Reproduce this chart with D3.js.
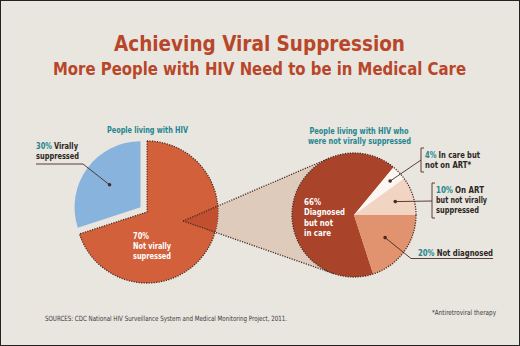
<!DOCTYPE html>
<html><head><meta charset="utf-8">
<script src="https://cdn.jsdelivr.net/npm/d3@7"></script>
<style>
html,body{margin:0;padding:0;background:#e9e5df;}
svg{display:block;}
text{font-family:"Liberation Sans Narrow","DejaVu Sans Condensed","Roboto",sans-serif;font-stretch:condensed;}
</style></head>
<body>
<script>
// ---- data ----
const titleText = "Achieving Viral Suppression";
const subtitleText = "More People with HIV Need to be in Medical Care";
const outerCategories = ["Not virally supressed", "Virally suppressed"];
const outerValues = [70, 30];
const innerCategories = ["Diagnosed but not in care", "In care but not on ART*", "On ART but not virally suppressed", "Not diagnosed"];
const innerValues = [66, 4, 10, 20];
const sourceText = "SOURCES: CDC National HIV Surveillance System and Medical Monitoring Project, 2011.";
const footnoteText = "*Antiretroviral therapy";

const W = 520, H = 346;
const C = {
  bg: "#e9e5df", title: "#b8472a", teal: "#23868f", dark: "#2b2522",
  orange: "#d1603b", orangeDeep: "#c24f2f", blue: "#87b3dd", tan: "#dfcbbc",
  inner: ["#a9432a", "#fcf7f2", "#f2d4c3", "#e1926e"], dots: "#4a2b20"
};
const FS = 8.6;

const svg = d3.select("body").append("svg").attr("width", W).attr("height", H);
svg.append("rect").attr("x", 0.5).attr("y", 0.5).attr("width", W - 1).attr("height", H - 1)
  .attr("fill", C.bg).attr("stroke", "#222").attr("stroke-width", 1);

function fitText(sel, len) { if (len) sel.attr("textLength", len).attr("lengthAdjust", "spacingAndGlyphs"); return sel; }

// titles
fitText(svg.append("text").attr("x", 259.5).attr("y", 51).attr("text-anchor", "middle")
  .attr("font-size", 22).attr("font-weight", "bold").attr("fill", C.title).text(titleText), 291);
fitText(svg.append("text").attr("x", 259.5).attr("y", 75).attr("text-anchor", "middle")
  .attr("font-size", 17).attr("font-weight", "bold").attr("fill", C.title).text(subtitleText), 413);

// ---- geometry ----
const L = { cx: 147, cy: 212, r: 71, rBlue: 66, explode: 8 };
const R = { cx: 354, cy: 215, r: 62 };
const apex = [183, 221];

const dx = R.cx - apex[0], dy = R.cy - apex[1];
const d = Math.hypot(dx, dy), base = Math.atan2(dy, dx), half = Math.asin(R.r / d);
const tl = Math.sqrt(d * d - R.r * R.r);
const tUp = [apex[0] + tl * Math.cos(base - half), apex[1] + tl * Math.sin(base - half)];
const tDn = [apex[0] + tl * Math.cos(base + half), apex[1] + tl * Math.sin(base + half)];
const conePts = [apex, tUp, [R.cx, R.cy], tDn];

const dotted = { stroke: C.dots, "stroke-width": 1.3, "stroke-dasharray": "1.2,1.3", fill: "none" };
function applyAttrs(sel, o) { Object.entries(o).forEach(([k, v]) => sel.attr(k, v)); return sel; }

svg.append("polygon").attr("points", conePts.map(p => p.join(",")).join(" ")).attr("fill", C.tan);

// left pie
const leftPie = d3.pie().sort(null).startAngle(0).endAngle(2 * Math.PI)(outerValues);
const arcOrange = d3.arc().innerRadius(0).outerRadius(L.r);
const arcBlue = d3.arc().innerRadius(0).outerRadius(L.rBlue);
const gL = svg.append("g").attr("transform", `translate(${L.cx},${L.cy})`);
gL.append("path").attr("d", arcOrange(leftPie[0])).attr("fill", C.orange);
const defs = svg.append("defs");
defs.append("clipPath").attr("id", "clipO").append("path")
  .attr("transform", `translate(${L.cx},${L.cy})`).attr("d", arcOrange(leftPie[0]));
svg.append("polygon").attr("points", conePts.map(p => p.join(",")).join(" "))
  .attr("fill", C.orangeDeep).attr("clip-path", "url(#clipO)");
applyAttrs(gL.append("path").attr("d", arcOrange(leftPie[0])), dotted);

const bMid = (leftPie[1].startAngle + leftPie[1].endAngle) / 2;
const bOff = [Math.sin(bMid) * L.explode, -Math.cos(bMid) * L.explode];
const gB = gL.append("g").attr("transform", `translate(${bOff[0]},${bOff[1]})`);
gB.append("path").attr("d", arcBlue(leftPie[1])).attr("fill", C.blue);

applyAttrs(svg.append("line").attr("x1", apex[0]).attr("y1", apex[1]).attr("x2", tUp[0]).attr("y2", tUp[1]), dotted);
applyAttrs(svg.append("line").attr("x1", apex[0]).attr("y1", apex[1]).attr("x2", tDn[0]).attr("y2", tDn[1]), dotted);

// right pie
const a0 = 0.9 * Math.PI;
const rightPie = d3.pie().sort(null).startAngle(a0).endAngle(a0 + 2 * Math.PI)(innerValues);
const arcR = d3.arc().innerRadius(0).outerRadius(R.r);
const gR = svg.append("g").attr("transform", `translate(${R.cx},${R.cy})`);
gR.selectAll("path.s").data(rightPie).join("path").attr("class", "s")
  .attr("d", arcR).attr("fill", (dd, i) => C.inner[i]);
applyAttrs(gR.append("circle").attr("r", R.r), dotted);

// leader dots
function centroidAt(p, rr) { return d3.arc().innerRadius(rr).outerRadius(rr).centroid(p); }
const blueDot = centroidAt(leftPie[1], L.rBlue * 0.58);
const bd = [L.cx + bOff[0] + blueDot[0], L.cy + bOff[1] + blueDot[1]];
const rd = [null,
  centroidAt(rightPie[1], R.r * 0.8),
  centroidAt(rightPie[2], R.r * 0.7),
  centroidAt(rightPie[3], R.r * 0.62)].map(c => c ? [R.cx + c[0], R.cy + c[1]] : null);

const lead = svg.append("g").attr("stroke", C.dots).attr("stroke-width", 0.9).attr("fill", "none");
lead.append("polyline").attr("points", `36,164 83,164 ${bd[0]},${bd[1]}`);
lead.append("polyline").attr("points", `424,148 421,148 421,172 424,172`);
lead.append("line").attr("x1", 421).attr("y1", 160).attr("x2", rd[1][0]).attr("y2", rd[1][1]);
lead.append("polyline").attr("points", `435,183 432,183 432,218 435,218`);
lead.append("line").attr("x1", 432).attr("y1", 201).attr("x2", rd[2][0]).attr("y2", rd[2][1]);
lead.append("polyline").attr("points", `${rd[3][0]},${rd[3][1]} 411,258.5 493,258.5`);
[bd, rd[1], rd[2], rd[3]].forEach(p => svg.append("circle").attr("cx", p[0]).attr("cy", p[1]).attr("r", 1.8).attr("fill", C.dots));

// ---- labels ----
// parts: [[string, colour], ...]; total: target width of the whole line
function label(x, y, parts, total, anchor) {
  const texts = parts.map(([s, col]) => svg.append("text").attr("x", x).attr("y", y)
    .attr("font-size", FS).attr("font-weight", "bold").attr("fill", col).text(s));
  const widths = texts.map(t => t.node().getComputedTextLength());
  const gap = FS * 0.28;
  const natural = d3.sum(widths) + gap * (parts.length - 1);
  const k = total / natural;
  let start = anchor === "middle" ? x - total / 2 : x;
  texts.forEach((t, i) => {
    const w = widths[i] * k;
    t.attr("x", start);
    fitText(t, w);
    start += w + gap * k;
  });
}
label(147.5, 133, [["People living with HIV", C.teal]], 81, "middle");
label(359, 134, [["People living with HIV who", C.teal]], 99, "middle");
label(359.5, 144, [["were not virally suppressed", C.teal]], 103, "middle");

label(36, 148.5, [["30%", C.teal], ["Virally", C.dark]], 42);
label(36, 158.5, [["suppressed", C.dark]], 43);

label(133, 239, [["70%", "#fff"]], 16);
label(133, 249.2, [["Not virally", "#fff"]], 38);
label(133, 259.4, [["supressed", "#fff"]], 38);

label(304, 205, [["66%", "#fff"]], 17);
label(304, 215.2, [["Diagnosed", "#fff"]], 41);
label(304, 225.6, [["but not", "#fff"]], 29);
label(304, 236, [["in care", "#fff"]], 27);

label(425, 157.8, [["4%", C.teal], ["In care but", C.dark]], 55);
label(425, 168, [["not on ART*", C.dark]], 46);

label(436, 193, [["10%", C.teal], ["On ART", C.dark]], 48);
label(436, 203.2, [["but not virally", C.dark]], 51);
label(436, 213.4, [["suppressed", C.dark]], 43);

label(418, 256, [["20%", C.teal], ["Not diagnosed", C.dark]], 75);

// footer
fitText(svg.append("text").attr("x", 45).attr("y", 321).attr("font-size", 7.2).attr("fill", "#3a3a3a").text(sourceText), 242);
fitText(svg.append("text").attr("x", 432).attr("y", 315).attr("font-size", 7.2).attr("fill", "#3a3a3a").text(footnoteText), 64);
</script>
</body></html>
